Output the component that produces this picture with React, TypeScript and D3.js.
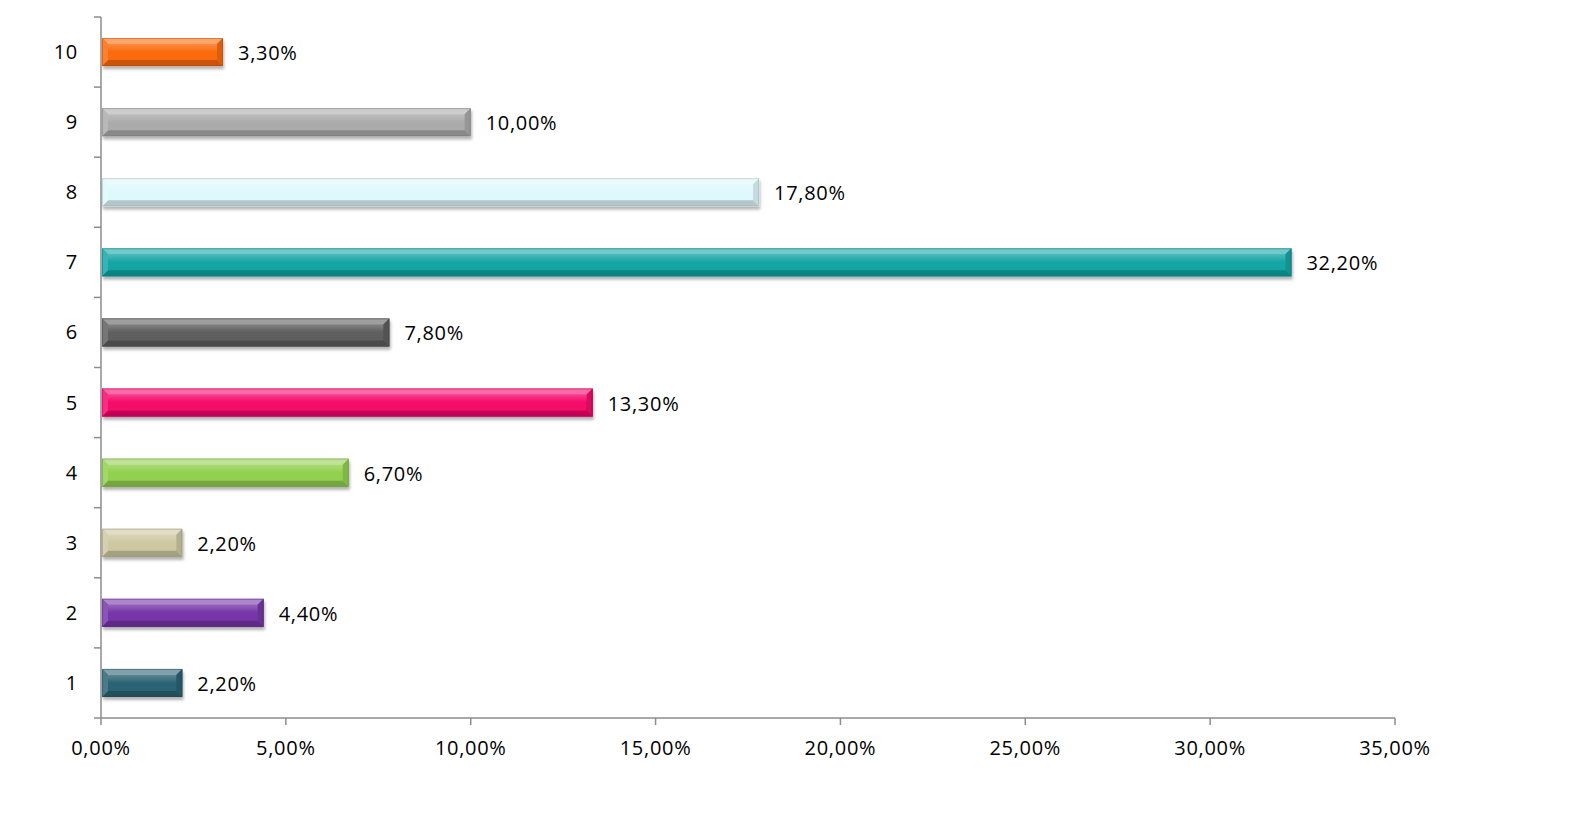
import React from "react";
import * as d3 from "d3";

const categories = ["1", "2", "3", "4", "5", "6", "7", "8", "9", "10"];
const values = [2.2, 4.4, 2.2, 6.7, 13.3, 7.8, 32.2, 17.8, 10.0, 3.3];
const colors = [
  "#2c6373", "#7636a8", "#cdc8a2", "#92d050", "#f5086b",
  "#5e5e5e", "#14a5a5", "#def9fc", "#ababab", "#fb6a0a",
];
const xTicks = [0, 5, 10, 15, 20, 25, 30, 35];

const W = 1569;
const H = 815;
const margin = { left: 101, right: 176, top: 17, bottom: 97 };

const fmt = (v: number) => v.toFixed(2).replace(".", ",") + "%";

function Bar({ x, y, w, h, color, i }: { x: number; y: number; w: number; h: number; color: string; i: number }) {
  const b = Math.min(6, w / 2, h / 2);
  const light = d3.interpolateRgb(color, "#ffffff")(0.4);
  const lightSide = d3.interpolateRgb(color, "#ffffff")(0.15);
  const dark = d3.interpolateRgb(color, "#000000")(0.2);
  const darkSide = d3.interpolateRgb(color, "#000000")(0.12);
  const outline = d3.interpolateRgb(color, "#000000")(0.3);
  const x2 = x + w;
  const y2 = y + h;
  return (
    <g filter="url(#shadow)">
      <rect x={x} y={y} width={w} height={h} fill={color} />
      <polygon points={`${x},${y} ${x2},${y} ${x2 - b},${y + b} ${x + b},${y + b}`} fill={light} />
      <polygon points={`${x},${y2} ${x2},${y2} ${x2 - b},${y2 - b} ${x + b},${y2 - b}`} fill={dark} />
      <polygon points={`${x},${y} ${x + b},${y + b} ${x + b},${y2 - b} ${x},${y2}`} fill={lightSide} />
      <polygon points={`${x2},${y} ${x2 - b},${y + b} ${x2 - b},${y2 - b} ${x2},${y2}`} fill={darkSide} />
      <rect x={x + b} y={y + b} width={Math.max(0, w - 2 * b)} height={(h - 2 * b) / 2} fill={`url(#gloss${i})`} opacity={0.25} />
      <rect x={x + 0.5} y={y + 0.5} width={w - 1} height={h - 1} fill="none" stroke={outline} strokeOpacity={0.45} strokeWidth={1} />
    </g>
  );
}

export default function App() {
  const x = d3.scaleLinear().domain([0, 35]).range([margin.left, W - margin.right + 2]);
  const y = d3
    .scaleBand<string>()
    .domain([...categories].reverse())
    .range([margin.top, H - margin.bottom])
    .paddingInner(0.6)
    .paddingOuter(0.3);
  const bottom = H - margin.bottom;
  const font = "'Open Sans', 'Noto Sans', sans-serif";
  const fs = 20;
  const ls = 0.7;
  const bandEdges = d3.range(categories.length + 1).map((k) => margin.top + k * ((bottom - margin.top) / categories.length));

  return (
    <svg width={W} height={H} style={{ position: "absolute", left: 0, top: 0, background: "#fff" }}>
      <defs>
        <filter id="shadow" x="-5%" y="-30%" width="110%" height="180%">
          <feDropShadow dx="1" dy="3" stdDeviation="1.8" floodColor="#000" floodOpacity="0.3" />
        </filter>
        {colors.map((c, i) => (
          <linearGradient key={i} id={`gloss${i}`} x1="0" y1="0" x2="0" y2="1">
            <stop offset="0" stopColor="#fff" stopOpacity="0.9" />
            <stop offset="1" stopColor="#fff" stopOpacity="0" />
          </linearGradient>
        ))}
      </defs>

      {/* bars */}
      {categories.map((c, i) => {
        const by = y(c)!;
        const bx = x(0) + 1;
        const bw = x(values[i]) - bx;
        return <Bar key={c} x={bx} y={by} w={bw} h={y.bandwidth()} color={colors[i]} i={i} />;
      })}

      {/* value labels */}
      {categories.map((c, i) => (
        <text
          key={"l" + c}
          x={x(values[i]) + 15}
          y={y(c)! + y.bandwidth() / 2 + 1}
          dy="0.35em"
          fontFamily={font}
          fontSize={fs}
          letterSpacing={ls}
          fill="#000"
        >
          {fmt(values[i])}
        </text>
      ))}

      {/* y axis */}
      <line x1={x(0)} x2={x(0)} y1={margin.top} y2={bottom} stroke="#8c8c8c" strokeWidth={1.5} />
      {bandEdges.map((e, k) => (
        <line key={"yt" + k} x1={x(0) - 7} x2={x(0)} y1={e} y2={e} stroke="#8c8c8c" strokeWidth={1.5} />
      ))}
      {categories.map((c) => (
        <text
          key={"yl" + c}
          x={x(0) - 23}
          y={y(c)! + y.bandwidth() / 2}
          dy="0.35em"
          textAnchor="end"
          fontFamily={font}
          fontSize={fs}
          letterSpacing={ls}
          fill="#000"
        >
          {c}
        </text>
      ))}

      {/* x axis */}
      <line x1={x(0)} x2={x(35)} y1={bottom} y2={bottom} stroke="#8c8c8c" strokeWidth={1.5} />
      {xTicks.map((t) => (
        <g key={"xt" + t}>
          <line x1={x(t)} x2={x(t)} y1={bottom} y2={bottom + 7} stroke="#8c8c8c" strokeWidth={1.5} />
          <text x={x(t)} y={bottom + 30} dy="0.35em" textAnchor="middle" fontFamily={font} fontSize={fs} letterSpacing={ls} fill="#000">
            {fmt(t)}
          </text>
        </g>
      ))}
    </svg>
  );
}
